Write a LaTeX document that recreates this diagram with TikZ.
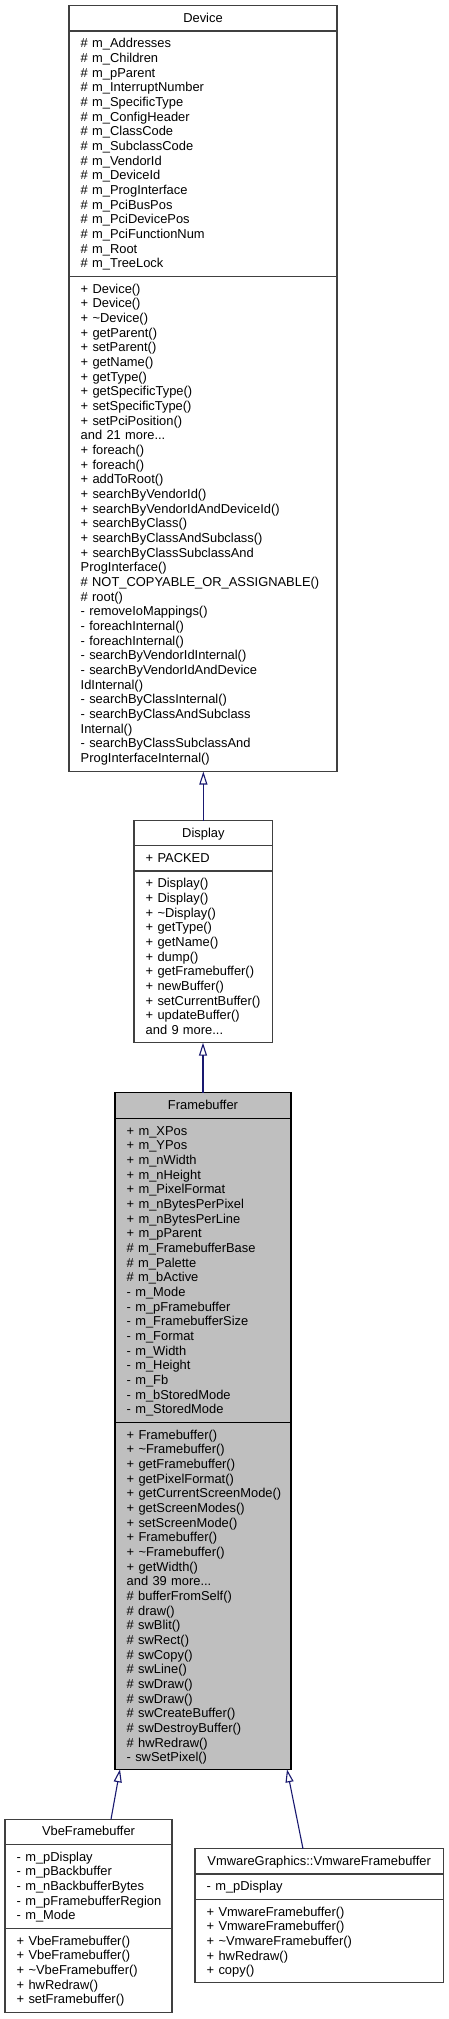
\documentclass[tikz,border=0pt]{standalone}
\usepackage{fontspec}
\setmainfont{Liberation Sans}
\usetikzlibrary{arrows.meta,calc}
\definecolor{edgeblue}{HTML}{191970}
\definecolor{fbgray}{HTML}{BFBFBF}
\definecolor{boxline}{HTML}{404040}
\tikzset{
  umlbox/.style={draw=boxline, line width=1.1pt, fill=white, rectangle, inner sep=0pt, outer sep=0pt, anchor=north west},
  rootbox/.style={umlbox, draw=black, fill=fbgray},
  sepline/.style={draw=boxline, line width=1.1pt},
  rootsep/.style={draw=black, line width=1.1pt},
  umltext/.style={font=\fontsize{12.9}{14.67}\selectfont, inner sep=0pt, text width=330pt, align=left, anchor=base west},
  umltitle/.style={font=\fontsize{12.9}{14.67}\selectfont, inner sep=0pt, anchor=base},
  inherit/.style={draw=edgeblue, line width=1.1pt, -{Triangle[open, length=13pt, width=8pt]}},
}
\begin{document}
\begin{tikzpicture}[x=1pt,y=-1pt]
\useasboundingbox (0,0) rectangle (449,2019);
\fill[white] (0,0) rectangle (449,2019);

% ---------------- Device ----------------
\node[umlbox, minimum width=268pt, minimum height=765.8pt] (device) at (69,5.7) {};
\draw[sepline] ($(device.north west)+(0,25.3)$) -- ($(device.north east)+(0,25.3)$);
\draw[sepline] ($(device.north west)+(0,270.6)$) -- ($(device.north east)+(0,270.6)$);
\node[umltitle] (devt) at (203,22.3) {Device};
\node[umltext] (deva) at (80.5,47.9) {\# m\_Addresses\\
\# m\_Children\\
\# m\_pParent\\
\# m\_InterruptNumber\\
\# m\_SpecificType\\
\# m\_ConfigHeader\\
\# m\_ClassCode\\
\# m\_SubclassCode\\
\# m\_VendorId\\
\# m\_DeviceId\\
\# m\_ProgInterface\\
\# m\_PciBusPos\\
\# m\_PciDevicePos\\
\# m\_PciFunctionNum\\
\# m\_Root\\
\# m\_TreeLock};
\node[umltext] (devm) at (80.5,293.2) {+ Device()\\
+ Device()\\
+ \textasciitilde Device()\\
+ getParent()\\
+ setParent()\\
+ getName()\\
+ getType()\\
+ getSpecificType()\\
+ setSpecificType()\\
+ setPciPosition()\\
and 21 more...\\
+ foreach()\\
+ foreach()\\
+ addToRoot()\\
+ searchByVendorId()\\
+ searchByVendorIdAndDeviceId()\\
+ searchByClass()\\
+ searchByClassAndSubclass()\\
+ searchByClassSubclassAnd\\
ProgInterface()\\
\# NOT\_COPYABLE\_OR\_ASSIGNABLE()\\
\# root()\\
- removeIoMappings()\\
- foreachInternal()\\
- foreachInternal()\\
- searchByVendorIdInternal()\\
- searchByVendorIdAndDevice\\
IdInternal()\\
- searchByClassInternal()\\
- searchByClassAndSubclass\\
Internal()\\
- searchByClassSubclassAnd\\
ProgInterfaceInternal()};

% ---------------- Display ----------------
\node[umlbox, minimum width=138.7pt, minimum height=222pt] (display) at (134,820.7) {};
\draw[sepline] ($(display.north west)+(0,25)$) -- ($(display.north east)+(0,25)$);
\draw[sepline] ($(display.north west)+(0,50.3)$) -- ($(display.north east)+(0,50.3)$);
\node[umltitle] (dispt) at (203.35,837.3) {Display};
\node[umltext] (dispa) at (145.5,862.6) {+ PACKED};
\node[umltext] (dispm) at (145.5,887.9) {+ Display()\\
+ Display()\\
+ \textasciitilde Display()\\
+ getType()\\
+ getName()\\
+ dump()\\
+ getFramebuffer()\\
+ newBuffer()\\
+ setCurrentBuffer()\\
+ updateBuffer()\\
and 9 more...};

% ---------------- Framebuffer ----------------
\node[rootbox, minimum width=176pt, minimum height=676.6pt] (fb) at (115,1092.7) {};
\draw[rootsep] ($(fb.north west)+(0,25.6)$) -- ($(fb.north east)+(0,25.6)$);
\draw[rootsep] ($(fb.north west)+(0,329.6)$) -- ($(fb.north east)+(0,329.6)$);
\node[umltitle] (fbt) at (203,1109.3) {Framebuffer};
\node[umltext] (fba) at (126.5,1135.2) {+ m\_XPos\\
+ m\_YPos\\
+ m\_nWidth\\
+ m\_nHeight\\
+ m\_PixelFormat\\
+ m\_nBytesPerPixel\\
+ m\_nBytesPerLine\\
+ m\_pParent\\
\# m\_FramebufferBase\\
\# m\_Palette\\
\# m\_bActive\\
- m\_Mode\\
- m\_pFramebuffer\\
- m\_FramebufferSize\\
- m\_Format\\
- m\_Width\\
- m\_Height\\
- m\_Fb\\
- m\_bStoredMode\\
- m\_StoredMode};
\node[umltext] (fbm) at (126.5,1439.2) {+ Framebuffer()\\
+ \textasciitilde Framebuffer()\\
+ getFramebuffer()\\
+ getPixelFormat()\\
+ getCurrentScreenMode()\\
+ getScreenModes()\\
+ setScreenMode()\\
+ Framebuffer()\\
+ \textasciitilde Framebuffer()\\
+ getWidth()\\
and 39 more...\\
\# bufferFromSelf()\\
\# draw()\\
\# swBlit()\\
\# swRect()\\
\# swCopy()\\
\# swLine()\\
\# swDraw()\\
\# swDraw()\\
\# swCreateBuffer()\\
\# swDestroyBuffer()\\
\# hwRedraw()\\
- swSetPixel()};

% ---------------- VbeFramebuffer ----------------
\node[umlbox, minimum width=167pt, minimum height=193.4pt] (vbe) at (5,1819.3) {};
\draw[sepline] ($(vbe.north west)+(0,25)$) -- ($(vbe.north east)+(0,25)$);
\draw[sepline] ($(vbe.north west)+(0,109)$) -- ($(vbe.north east)+(0,109)$);
\node[umltitle] (vbet) at (88.5,1835.9) {VbeFramebuffer};
\node[umltext] (vbea) at (16.5,1861.2) {- m\_pDisplay\\
- m\_pBackbuffer\\
- m\_nBackbufferBytes\\
- m\_pFramebufferRegion\\
- m\_Mode};
\node[umltext] (vbem) at (16.5,1945.2) {+ VbeFramebuffer()\\
+ VbeFramebuffer()\\
+ \textasciitilde VbeFramebuffer()\\
+ hwRedraw()\\
+ setFramebuffer()};

% ---------------- VmwareFramebuffer ----------------
\node[umlbox, minimum width=248.3pt, minimum height=134pt] (vmw) at (195,1848.7) {};
\draw[sepline] ($(vmw.north west)+(0,25.3)$) -- ($(vmw.north east)+(0,25.3)$);
\draw[sepline] ($(vmw.north west)+(0,50.6)$) -- ($(vmw.north east)+(0,50.6)$);
\node[umltitle] (vmwt) at (319.15,1865.3) {VmwareGraphics::VmwareFramebuffer};
\node[umltext] (vmwa) at (206.5,1890.9) {- m\_pDisplay};
\node[umltext] (vmwm) at (206.5,1916.2) {+ VmwareFramebuffer()\\
+ VmwareFramebuffer()\\
+ \textasciitilde VmwareFramebuffer()\\
+ hwRedraw()\\
+ copy()};

% ---------------- inheritance edges ----------------
\draw[inherit] (display.north |- display.north) -- (display.north |- device.south);
\draw[inherit] (fb.north) -- (fb.north |- display.south);
\draw[inherit] ($(vbe.north west)+(106,0)$) -- ($(fb.south west)+(5,0)$);
\draw[inherit] ($(vmw.north west)+(108,0)$) -- ($(fb.south west)+(172,0)$);
\end{tikzpicture}
\end{document}
